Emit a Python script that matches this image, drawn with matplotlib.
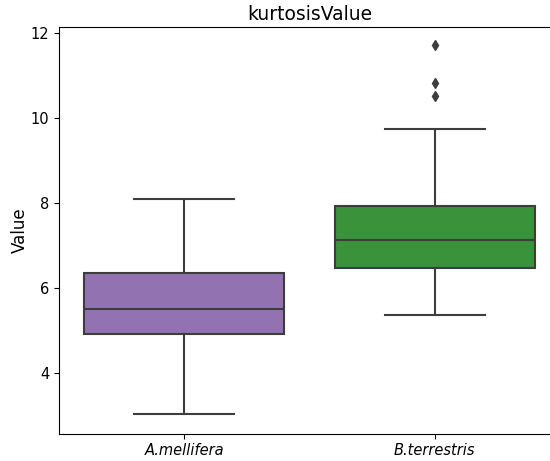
import colorsys
import matplotlib
matplotlib.use("Agg")
import matplotlib.pyplot as plt
import matplotlib.colors as mcolors

species = ["A.mellifera", "B.terrestris"]
whislo = [3.03, 5.36]
q1 = [4.91, 6.48]
med = [5.50, 7.12]
q3 = [6.36, 7.94]
whishi = [8.10, 9.75]
fliers = [[], [11.72, 10.83, 10.51]]
base_colors = ["#9467bd", "#2ca02c"]


def desaturate(color, prop=0.75):
    h, l, s = colorsys.rgb_to_hls(*mcolors.to_rgb(color))
    return colorsys.hls_to_rgb(h, l, s * prop)


line_gray = "#3d3d3d"

fig = plt.figure(figsize=(5.5, 4.61), dpi=100)
ax = fig.add_axes([59 / 550, 1 - 433.7 / 461, 501 / 550, (433.7 - 27) / 461])

stats = []
for i in range(len(species)):
    stats.append(dict(label=species[i], whislo=whislo[i], q1=q1[i], med=med[i],
                      q3=q3[i], whishi=whishi[i], fliers=fliers[i]))

bp = ax.bxp(stats, positions=range(len(species)), widths=0.8, patch_artist=True,
            showfliers=True,
            boxprops=dict(edgecolor=line_gray, linewidth=1.5),
            medianprops=dict(color=line_gray, linewidth=1.5),
            whiskerprops=dict(color=line_gray, linewidth=1.5),
            capprops=dict(color=line_gray, linewidth=1.5),
            flierprops=dict(marker="d", markerfacecolor=line_gray, markeredgecolor=line_gray,
                            markersize=5))
for patch, c in zip(bp["boxes"], base_colors):
    patch.set_facecolor(desaturate(c))

ax.spines["right"].set_visible(False)
ax.set_xlim(-0.5, 1.5)
ax.set_ylim(2.575, 12.14)
ax.set_yticks([4, 6, 8, 10, 12])
ax.set_xticks(range(len(species)))
ax.set_xticklabels(species, style="italic", fontsize=10.5)
ax.tick_params(axis="y", labelsize=10.5)
ax.set_ylabel("Value", fontsize=12, labelpad=1)
ax.set_title("kurtosisValue", fontsize=13.5, pad=5)

fig.savefig("out.png", dpi=100)
